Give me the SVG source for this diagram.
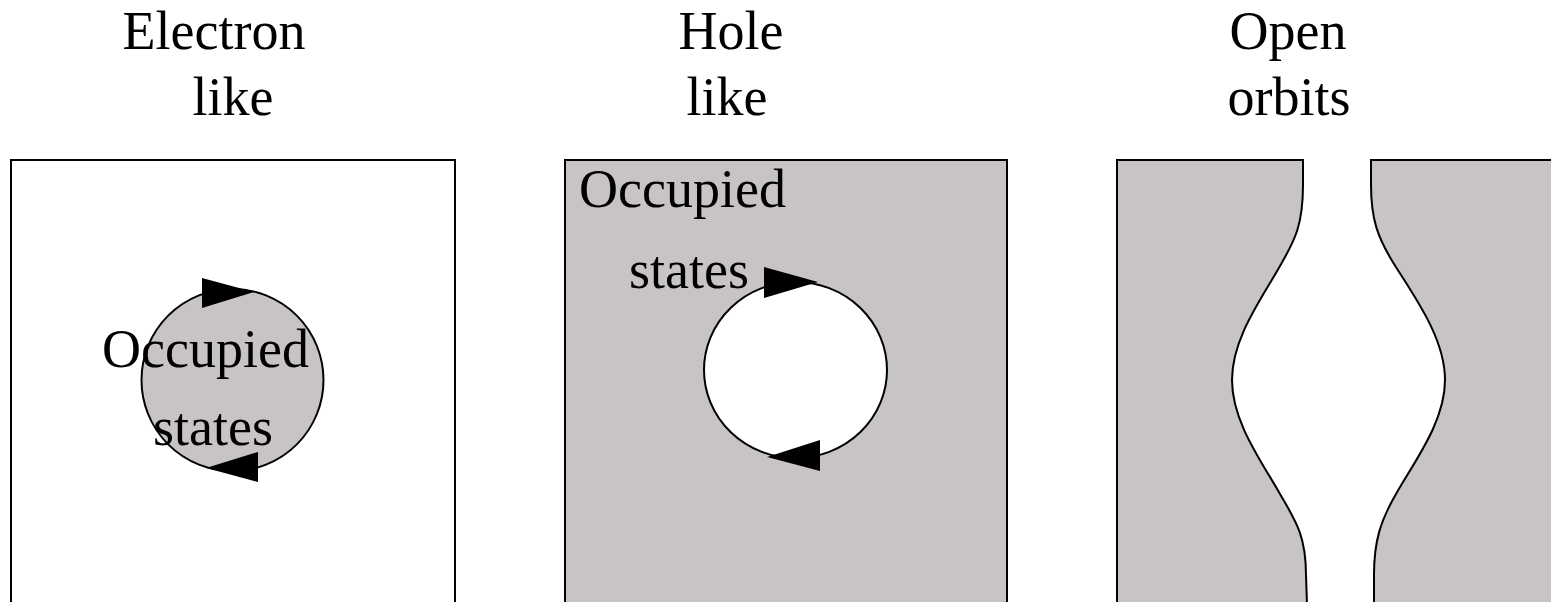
<svg xmlns="http://www.w3.org/2000/svg" width="1551" height="602" viewBox="0 0 1551 602">
<style>
.t{font-family:"Liberation Serif","Times New Roman",serif;font-size:54px;fill:#000}
.ln{fill:none;stroke:#000;stroke-width:2}
.g{fill:#c7c4c3}
.ar{fill:#000}
</style>
<rect width="1551" height="602" fill="#fff"/>
<g id="titles">
<text class="t" x="214" y="49" text-anchor="middle">Electron</text>
<text class="t" x="233" y="115" text-anchor="middle">like</text>
<text class="t" x="731" y="49" text-anchor="middle">Hole</text>
<text class="t" x="727" y="115" text-anchor="middle">like</text>
<text class="t" x="1288" y="49" text-anchor="middle">Open</text>
<text class="t" x="1289" y="115" text-anchor="middle">orbits</text>
</g>
<g id="electron-like">
<path class="ln" d="M11,604 L11,160 L455,160 L455,604"/>
<circle cx="232.5" cy="380" r="91" class="g" stroke="#000" stroke-width="2"/>
<polygon class="ar" points="202,278 202,308 254,292"/>
<polygon class="ar" points="258,452 258,482 206,468"/>
<text class="t" x="102" y="367">Occupied</text>
<text class="t" x="153" y="445">states</text>
</g>
<g id="hole-like">
<path class="g" d="M565,160 L1007,160 L1007,604 L565,604 Z"/>
<path class="ln" d="M565,604 L565,160 L1007,160 L1007,604"/>
<ellipse cx="795.5" cy="370" rx="91.5" ry="88" fill="#fff" stroke="#000" stroke-width="2"/>
<polygon class="ar" points="764,267 764,298 818,282"/>
<polygon class="ar" points="820,440 820,471 767,457"/>
<text class="t" x="579" y="207">Occupied</text>
<text class="t" x="629" y="288">states</text>
</g>
<g id="open-orbits">
<path class="g" d="M1117,160 L1303,160 L1303,185 C1303,225 1295,240 1280,266 C1262,298 1232,338 1232,380 C1232,422 1262,462 1280,494 C1295,520 1306,535 1306,575 L1307,604 L1117,604 Z"/>
<path class="g" d="M1371,160 L1371,185 C1371,220 1378,238 1394,264 C1414,296 1445,338 1445,380 C1445,422 1414,462 1396,494 C1381,520 1374,540 1374,575 L1374,604 L1553,604 L1553,160 Z"/>
<path class="ln" d="M1117,604 L1117,160 L1303,160 L1303,185 C1303,225 1295,240 1280,266 C1262,298 1232,338 1232,380 C1232,422 1262,462 1280,494 C1295,520 1306,535 1306,575 L1307,604"/>
<path class="ln" d="M1553,160 L1371,160 L1371,185 C1371,220 1378,238 1394,264 C1414,296 1445,338 1445,380 C1445,422 1414,462 1396,494 C1381,520 1374,540 1374,575 L1374,604"/>
</g>
</svg>
